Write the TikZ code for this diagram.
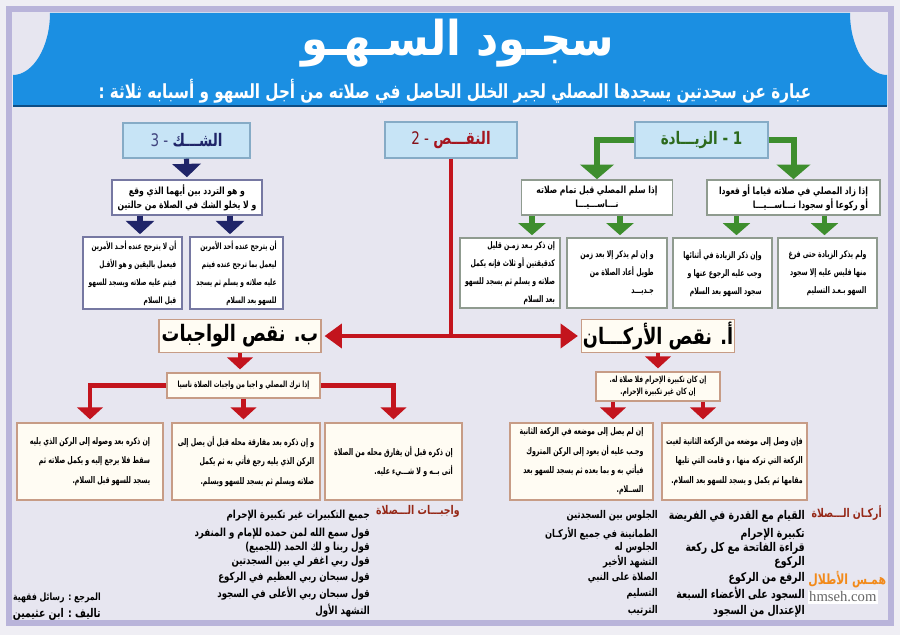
\documentclass[tikz,border=0pt]{standalone}
\usepackage{fontspec}
\usetikzlibrary{arrows.meta,calc}
\TeXXeTstate=1
\setmainfont{DejaVu Sans}
\newfontfamily\arfont[Script=Arabic,FakeStretch=0.78]{DejaVu Sans}
\newfontfamily\arsmall[Script=Arabic,FakeStretch=0.68]{DejaVu Sans}
\newfontfamily\artitle[Script=Arabic,FakeStretch=0.9]{DejaVu Sans}
\newfontfamily\wmfont{Liberation Serif}
\newcommand{\AR}[1]{{\beginR#1\endR}}
\definecolor{outerc}{HTML}{EFEEF4}
\definecolor{bgc}{HTML}{E7E6F0}
\definecolor{framec}{HTML}{B9B4DA}
\definecolor{bannerc}{HTML}{1B8FE2}
\definecolor{bannerd}{HTML}{0E4E86}
\definecolor{topfill}{HTML}{C7E4F6}
\definecolor{topdraw}{HTML}{86ABC6}
\definecolor{gcol}{HTML}{3E8E2E}
\definecolor{gtext}{HTML}{2C6A1D}
\definecolor{ncol}{HTML}{1F2468}
\definecolor{rcol}{HTML}{C3141D}
\definecolor{rtext}{HTML}{A5151F}
\definecolor{rdraw}{HTML}{C79C86}
\definecolor{rfill}{HTML}{FFFCF3}
\definecolor{gdraw}{HTML}{8F9B8F}
\definecolor{ndraw}{HTML}{7678A2}
\definecolor{lblc}{HTML}{962817}
\definecolor{wmark}{HTML}{F28A1A}
\begin{document}
\begin{tikzpicture}[x=0.75pt,y=-0.75pt,
  box/.style={rectangle, inner sep=0pt, align=center, text=black},
  topbox/.style={box, fill=topfill, draw=topdraw, line width=1.1pt},
  gbox/.style={box, fill=white, draw=gdraw, line width=1.2pt},
  nbox/.style={box, fill=white, draw=ndraw, line width=1.2pt},
  rbox/.style={box, fill=rfill, draw=rdraw, line width=1.4pt},
  smalltxt/.style={font=\arsmall\bfseries\fontsize{6.8}{13.5}\selectfont, align=right},
  midtxt/.style={font=\arfont\bfseries\fontsize{7.4}{10.5}\selectfont},
  wtxt/.style={font=\arsmall\bfseries\fontsize{6.9}{14.5}\selectfont, align=right},
  listtxt/.style={font=\arfont\bfseries\fontsize{8}{8}\selectfont, anchor=east, inner sep=0pt},
  listL/.style={listtxt, font=\arfont\bfseries\fontsize{8.3}{8}\selectfont},
  listRt/.style={listtxt, font=\arfont\bfseries\fontsize{9}{8}\selectfont},
  bigarrowG/.style={draw=gcol, line width=4.5pt, -{Triangle[width=25pt,length=11pt]}},
  smallarrowG/.style={draw=gcol, line width=3.8pt, -{Triangle[width=20pt,length=9pt]}, shorten >=1.5pt},
  arrowN/.style={draw=ncol, line width=3.8pt, -{Triangle[width=21pt,length=10pt]}, shorten >=1.5pt},
  lineR/.style={draw=rcol, line width=3pt},
  arrowRH/.style={draw=rcol, line width=3pt, -{Triangle[width=18pt,length=13pt]}, shorten >=2pt},
  arrowR/.style={draw=rcol, line width=3.4pt, -{Triangle[width=19pt,length=9pt]}, shorten >=2pt}
]
\useasboundingbox (0,0) rectangle (900,635);
% background and frame
\fill[outerc] (0,0) rectangle (900,635);
\fill[bgc] (9,9) rectangle (891,623);
\draw[framec, line width=4.5pt] (9,9) rectangle (891,623);
% banner
\fill[bannerc] (50,13) -- (850,13) .. controls (850,47) and (867,75) .. (887,75) -- (887,106) -- (13,106) -- (13,75) .. controls (33,75) and (50,47) .. (50,13) -- cycle;
\draw[bannerd, line width=2.2pt] (13,106) -- (887,106);
\node[font=\artitle\bfseries\fontsize{36}{36}\selectfont, text=white, inner sep=0pt] (title) at (458,43) {\AR{سجـود السـهـو}};
\node[font=\arfont\bfseries\fontsize{14.6}{14}\selectfont, text=white, inner sep=0pt] (sub) at (455,91) {\AR{عبارة عن سجدتين يسجدها المصلي لجبر الخلل الحاصل في صلاته من أجل السهو و أسبابه ثلاثة :}};

% top boxes
\node[topbox, minimum width=95.25pt, minimum height=26.25pt, font=\arfont\fontsize{13}{13}\selectfont] (t3) at (186.5,140.5) {\textcolor{ncol!85}{3 -} \textcolor{ncol}{\bfseries\AR{الشـــك}}};
\node[topbox, minimum width=99pt, minimum height=27pt, font=\arfont\fontsize{13}{13}\selectfont] (t2) at (451,140) {\textcolor{rtext!80!black}{2 -} \textcolor{rtext}{\bfseries\AR{النقـــص}}};
\node[topbox, minimum width=99.75pt, minimum height=27pt, font=\arfont\bfseries\fontsize{13}{13}\selectfont, text=gtext] (t1) at (701.5,140) {\AR{الزيـــادة} - 1};

% green branch
\node[gbox, minimum width=113.25pt, minimum height=26.25pt, midtxt] (gA) at (597,197.5) {\AR{إذا سلم المصلي قبل تمام صلاته}\\\AR{نـــاســـيـــا}};
\node[gbox, minimum width=129.75pt, minimum height=26.25pt, midtxt, align=right] (gB) at (793.5,197.5) {\AR{إذا زاد المصلي في صلاته قياما أو قعودا}\\\AR{أو ركوعا أو سجودا نـــاســـيـــا}};
\node[gbox, minimum width=75pt, minimum height=52.5pt, smalltxt] (g1) at (510,273) {\AR{إن ذكر بـعد زمـن قليل}\\\AR{كدقيقتين أو ثلاث فإنه يكمل}\\\AR{صلاته و يسلم ثم يسجد للسهو}\\\AR{بعد السلام}};
\node[gbox, minimum width=75pt, minimum height=52.5pt, smalltxt] (g2) at (617,273) {\AR{و إن لم يذكر إلا بعد زمن}\\\AR{طويل أعاد الصلاة من}\\\AR{جـديـــد}};
\node[gbox, minimum width=74.25pt, minimum height=52.5pt, smalltxt] (g3) at (722.5,273) {\AR{وإن ذكر الزيادة في أثنائها}\\\AR{وجب عليه الرجوع عنها و}\\\AR{سجود السهو بعد السلام}};
\node[gbox, minimum width=74.25pt, minimum height=52.5pt, smalltxt] (g4) at (827.5,273) {\AR{ولم يذكر الزيادة حتى فرغ}\\\AR{منها فليس عليه إلا سجود}\\\AR{السهو بـعـد التسليم}};
\draw[bigarrowG] (t1.west) -| (gA.north);
\draw[bigarrowG] (t1.east) -| (gB.north);
\coordinate (ga1) at ($(gA.south)+(-65,0)$);
\coordinate (ga2) at ($(gA.south)+(23,0)$);
\coordinate (gb1) at ($(gB.south)+(-57,0)$);
\coordinate (gb2) at ($(gB.south)+(31,0)$);
\draw[smallarrowG] (ga1) -- (ga1 |- g1.north);
\draw[smallarrowG] (ga2) -- (ga2 |- g2.north);
\draw[smallarrowG] (gb1) -- (gb1 |- g3.north);
\draw[smallarrowG] (gb2) -- (gb2 |- g4.north);

% navy branch
\node[nbox, minimum width=112.5pt, minimum height=26.25pt, midtxt] (nB) at (187,197.5) {\AR{و هو التردد بين أيهما الذي وقع}\\\AR{و لا يخلو الشك في الصلاة من حالتين}};
\node[nbox, minimum width=74.25pt, minimum height=54pt, smalltxt, font=\arsmall\bfseries\fontsize{6.5}{13.5}\selectfont] (n1) at (132.5,273) {\AR{أن لا يترجح عنده أحـد الأمرين}\\\AR{فيعمل باليقين و هو الأقـل}\\\AR{فيتم عليه صلاته ويسجد للسهو}\\\AR{قبل السلام}};
\node[nbox, minimum width=69.75pt, minimum height=54pt, smalltxt, font=\arsmall\bfseries\fontsize{6.5}{13.5}\selectfont] (n2) at (236.5,273) {\AR{أن يترجح عنده أحد الأمرين}\\\AR{ليعمل بما ترجح عنده فيتم}\\\AR{عليه صلاته و يسلم ثم يسجد}\\\AR{للسهو بعد السلام}};
\draw[arrowN] (t3.south) -- (nB.north);
\coordinate (nb1) at ($(nB.south)+(-47,0)$);
\coordinate (nb2) at ($(nB.south)+(43,0)$);
\draw[arrowN] (nb1) -- (nb1 |- n1.north);
\draw[arrowN] (nb2) -- (nb2 |- n2.north);

% red branch
\node[rbox, minimum width=121.5pt, minimum height=24.75pt, font=\arfont\bfseries\fontsize{17}{17}\selectfont] (bN) at (240,336) {\AR{ب. نقص الواجبات}};
\node[rbox, minimum width=114.75pt, minimum height=24.75pt, font=\arfont\bfseries\fontsize{17}{17}\selectfont] (aN) at (658,336) {\AR{أ. نقص الأركـــان}};
\coordinate (rj) at (t2.south |- bN.east);
\draw[lineR] (t2.south) -- (rj);
\draw[arrowRH] (rj) -- (bN.east);
\draw[arrowRH] (rj) -- (aN.west);
\node[rbox, minimum width=114.75pt, minimum height=18.75pt, font=\arsmall\bfseries\fontsize{6.4}{8}\selectfont] (bb) at (243.5,385.5) {\AR{إذا ترك المصلي و اجبا من واجبات الصلاة ناسيا}};
\node[rbox, minimum width=93pt, minimum height=21.75pt, font=\arsmall\bfseries\fontsize{6.4}{9}\selectfont] (aa) at (658,386.5) {\AR{إن كان تكبيرة الإحرام فلا صلاة له.}\\\AR{إن كان غير تكبيرة الإحرام.}};
\draw[arrowR] (bN.south) -- (bN.south |- bb.north);
\draw[arrowR] (aN.south) -- (aa.north);
\node[rbox, minimum width=109.5pt, minimum height=57.75pt, wtxt] (w1) at (90,461.5) {\AR{إن ذكره بعد وصوله إلى الركن الذي يليه}\\\AR{سقط فلا يرجع إليه و يكمل صلاته ثم}\\\AR{يسجد للسهو قبل السلام.}};
\node[rbox, minimum width=111pt, minimum height=57.75pt, wtxt] (w2) at (246,461.5) {\AR{و إن ذكره بعد مفارقة محله قبل أن يصل إلى}\\\AR{الركن الذي يليه رجع فأتي به ثم يكمل}\\\AR{صلاته ويسلم ثم يسجد للسهو ويسلم.}};
\node[rbox, minimum width=102.75pt, minimum height=57.75pt, wtxt] (w3) at (393.5,461.5) {\AR{إن ذكره قبل أن يفارق محله من الصلاة}\\\AR{أتى بــه و لا شـــيء عليه.}};
\draw[arrowR] (bb.west) -| (w1.north);
\draw[arrowR] (bb.south) -- (bb.south |- w2.north);
\draw[arrowR] (bb.east) -| (w3.north);
\node[rbox, minimum width=107.25pt, minimum height=57.75pt, wtxt] (a1) at (581.5,461.5) {\AR{إن لم يصل إلى موضعه في الركعة الثانية}\\\AR{وجـب عليه أن يعود إلى الركن المتروك}\\\AR{فيأتي به و بما بعده ثم يسجد للسهو بعد}\\\AR{الســلام.}};
\node[rbox, minimum width=108.75pt, minimum height=57.75pt, wtxt] (a2) at (734.5,461.5) {\AR{فإن وصل إلى موضعه من الركعة الثانية لغيت}\\\AR{الركعة التي تركه منها ، و قامت التي تليها}\\\AR{مقامها ثم يكمل و يسجد للسهو بعد السلام.}};
\coordinate (aa1) at ($(aa.south)+(-45,0)$);
\coordinate (aa2) at ($(aa.south)+(45,0)$);
\draw[arrowR] (aa1) -- (aa1 |- a1.north);
\draw[arrowR] (aa2) -- (aa2 |- a2.north);

% lists
\node[listtxt, text=lblc, font=\arfont\bfseries\fontsize{9}{9}\selectfont] (lw) at (460,511) {\AR{واجبـــات الـــصلاة}};
\node[listtxt, text=lblc, font=\arfont\bfseries\fontsize{9}{9}\selectfont] (lr) at (882,513) {\AR{أركـان الـــصلاة}};
\node[listL] (w01) at (370,516) {\AR{جميع التكبيرات غير تكبيرة الإحرام}};
\node[listL] (w02) at (370,534) {\AR{قول سمع الله لمن حمده للإمام و المنفرد}};
\node[listL] (w03) at (370,548) {\AR{قول ربنا و لك الحمد (للجميع)}};
\node[listL] (w04) at (370,562) {\AR{قول ربي اغفر لي بين السجدتين}};
\node[listL] (w05) at (370,578) {\AR{قول سبحان ربي العظيم في الركوع}};
\node[listL] (w06) at (370,594) {\AR{قول سبحان ربي الأعلى في السجود}};
\node[listL] (w07) at (370,611) {\AR{التشهد الأول}};
\node[listRt] (r01) at (805,516) {\AR{القيام مع القدرة في الفريضة}};
\node[listRt] (r02) at (805,534) {\AR{تكبيرة الإحرام}};
\node[listRt] (r03) at (805,548) {\AR{قراءة الفاتحة مع كل ركعة}};
\node[listRt] (r04) at (805,562) {\AR{الركوع}};
\node[listRt] (r05) at (805,578) {\AR{الرفع من الركوع}};
\node[listRt] (r06) at (805,594) {\AR{السجود على الأعضاء السبعة}};
\node[listRt] (r07) at (805,611) {\AR{الإعتدال من السجود}};
\node[listtxt] (m01) at (658,516) {\AR{الجلوس بين السجدتين}};
\node[listtxt] (m02) at (658,534) {\AR{الطمانينة في جميع الأركـان}};
\node[listtxt] (m03) at (658,548) {\AR{الجلوس له}};
\node[listtxt] (m04) at (658,562) {\AR{التشهد الأخير}};
\node[listtxt] (m05) at (658,578) {\AR{الصلاة على النبي}};
\node[listtxt] (m06) at (658,594) {\AR{التسليم}};
\node[listtxt] (m07) at (658,611) {\AR{الترتيب}};
\node[listtxt, font=\arfont\bfseries\fontsize{7.5}{8}\selectfont] (ref1) at (101,598) {\AR{المرجع : رسائل فقهية}};
\node[listtxt, font=\arfont\bfseries\fontsize{9}{9}\selectfont] (ref2) at (101,614) {\AR{تاليف : ابن عثيمين}};

% watermark
\node[anchor=west, inner sep=0pt, text=wmark, font=\arfont\bfseries\fontsize{10.5}{11}\selectfont] (wm1) at (808,580) {\AR{همـس الأطلال}};
\node[anchor=east, fill=white, inner sep=1pt, text=black!60, font=\wmfont\fontsize{11}{11}\selectfont] (wm2) at (878,597) {hmseh.com};
\end{tikzpicture}
\end{document}
